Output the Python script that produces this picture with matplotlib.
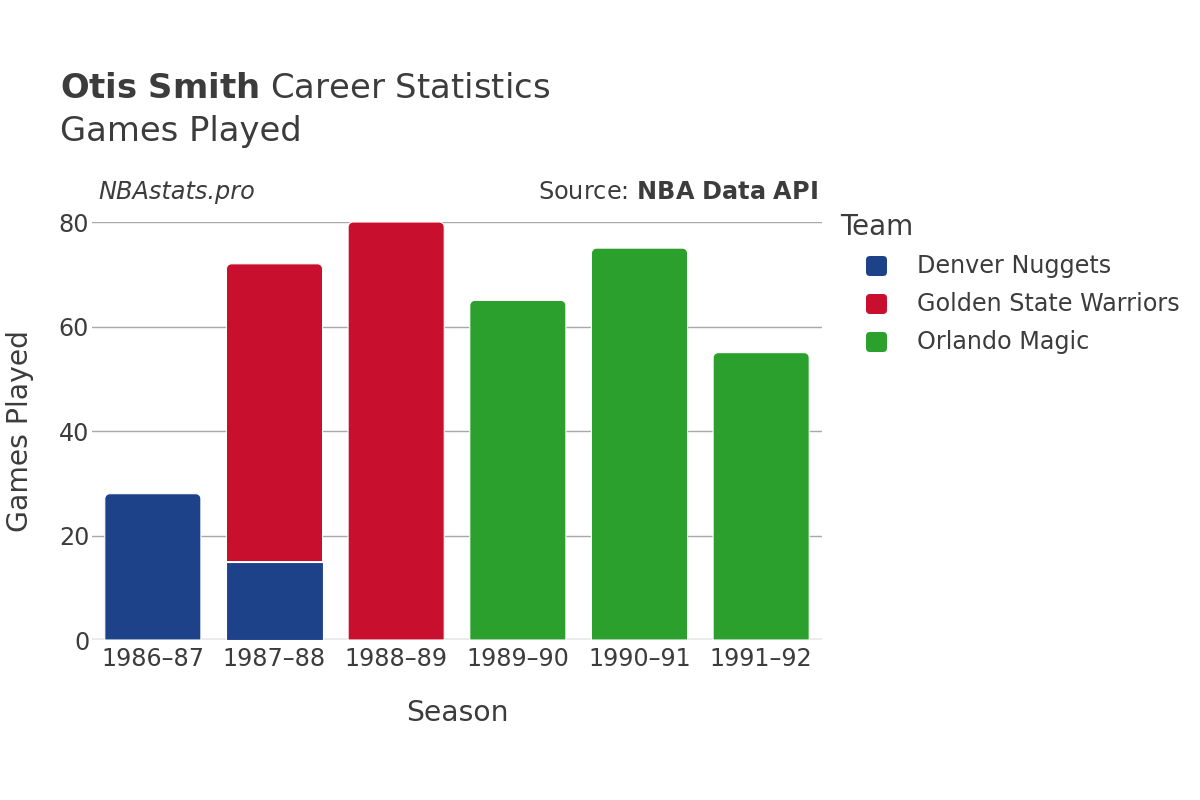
import matplotlib
matplotlib.use("Agg")
import matplotlib.pyplot as plt
from matplotlib.path import Path
from matplotlib.patches import PathPatch, FancyBboxPatch
import numpy as np

seasons = ["1986–87", "1987–88", "1988–89", "1989–90", "1990–91", "1991–92"]
teams = ["Denver Nuggets", "Golden State Warriors", "Orlando Magic"]
denver = [28, 15, 0, 0, 0, 0]
warriors = [0, 57, 80, 0, 0, 0]
magic = [0, 0, 0, 65, 75, 55]
team_values = [denver, warriors, magic]
team_colors = ["#1d428a", "#c8102e", "#2ca02c"]
yticks = [0, 20, 40, 60, 80]

TXT = "#3c3c3c"
plt.rcParams['font.family'] = ['DejaVu Sans']

fig = plt.figure(figsize=(12, 8), dpi=100)
L, R, T, B = 92, 822, 222, 640
ax = fig.add_axes([L / 1200, (800 - B) / 800, (R - L) / 1200, (B - T) / 800])
n = len(seasons)
ax.set_xlim(-0.5, n - 0.5)
ax.set_ylim(0, 80)

px_x = (n) / (R - L)
px_y = 80 / (B - T)


def bar_path(xc, bottom, height, width, r_px, rounded):
    x0, x1 = xc - width / 2, xc + width / 2
    y0, y1 = bottom, bottom + height
    if not rounded:
        verts = [(x0, y0), (x1, y0), (x1, y1), (x0, y1), (x0, y0)]
        codes = [Path.MOVETO, Path.LINETO, Path.LINETO, Path.LINETO, Path.CLOSEPOLY]
        return Path(verts, codes)
    rx, ry = r_px * px_x, r_px * px_y
    ry = min(ry, height / 2)
    k = 0.55
    verts = [(x0, y0), (x1, y0), (x1, y1 - ry),
             (x1, y1 - ry + k * ry), (x1 - rx + k * rx, y1), (x1 - rx, y1),
             (x0 + rx, y1),
             (x0 + rx - k * rx, y1), (x0, y1 - ry + k * ry), (x0, y1 - ry),
             (x0, y0)]
    codes = [Path.MOVETO, Path.LINETO, Path.LINETO,
             Path.CURVE4, Path.CURVE4, Path.CURVE4,
             Path.LINETO,
             Path.CURVE4, Path.CURVE4, Path.CURVE4,
             Path.CLOSEPOLY]
    return Path(verts, codes)


width = 0.79
vals = np.array(team_values, dtype=float)
totals = vals.sum(axis=0)
bottoms = np.zeros(n)
for ti, (team, color) in enumerate(zip(teams, team_colors)):
    for i in range(n):
        h = vals[ti, i]
        if h <= 0:
            continue
        is_top = np.isclose(bottoms[i] + h, totals[i])
        p = bar_path(i, bottoms[i], h, width, 5, is_top)
        ax.add_patch(PathPatch(p, facecolor=color, edgecolor="white", lw=0.8, zorder=3))
    bottoms += vals[ti]

# grid
for y in yticks[1:]:
    ax.axhline(y, color="#a8a8a8", lw=1.0, zorder=1)
ax.axhline(0, color="#ebebeb", lw=3.5, zorder=2)

for s in ax.spines.values():
    s.set_visible(False)
ax.set_xticks(range(n))
ax.set_xticklabels(seasons, fontsize=17.2, color=TXT)
ax.set_yticks(yticks)
ax.set_yticklabels([str(v) for v in yticks], fontsize=17.2, color=TXT)
ax.tick_params(axis='y', length=0, pad=2)
ax.tick_params(axis='x', length=0, pad=5)
ax.set_xlabel("Season", fontsize=20.3, color=TXT, labelpad=20)
ax.set_ylabel("Games Played", fontsize=20.3, color=TXT, labelpad=18)

# titles
fig.text(60 / 1200, 1 - 88 / 800, r"$\bf{Otis\ Smith}$ Career Statistics", fontsize=24.4,
         color=TXT, va="center", ha="left")
fig.text(60 / 1200, 1 - 132 / 800, "Games Played", fontsize=24.4, color=TXT, va="center", ha="left")
fig.text(98 / 1200, 1 - 192 / 800, "NBAstats.pro", fontsize=17.3, style="italic", color=TXT,
         va="center", ha="left")
fig.text(818 / 1200, 1 - 192 / 800, r"Source: $\bf{NBA\ Data\ API}$", fontsize=17.3, color=TXT,
         va="center", ha="right")

# legend (overlay in pixel coords)
ov = fig.add_axes([0, 0, 1, 1], zorder=5)
ov.set_xlim(0, 1200)
ov.set_ylim(800, 0)
ov.axis("off")
ov.text(840, 227, "Team", fontsize=20, color=TXT, va="center", ha="left")
for k, (team, color) in enumerate(zip(teams, team_colors)):
    yc = 266 + 38 * k
    ov.add_patch(FancyBboxPatch((866, yc - 10), 21, 20, boxstyle="round,pad=0,rounding_size=4",
                                facecolor=color, edgecolor="none"))
    ov.text(917, yc, team, fontsize=17.2, color=TXT, va="center", ha="left")

fig.savefig("out.png", dpi=100)
